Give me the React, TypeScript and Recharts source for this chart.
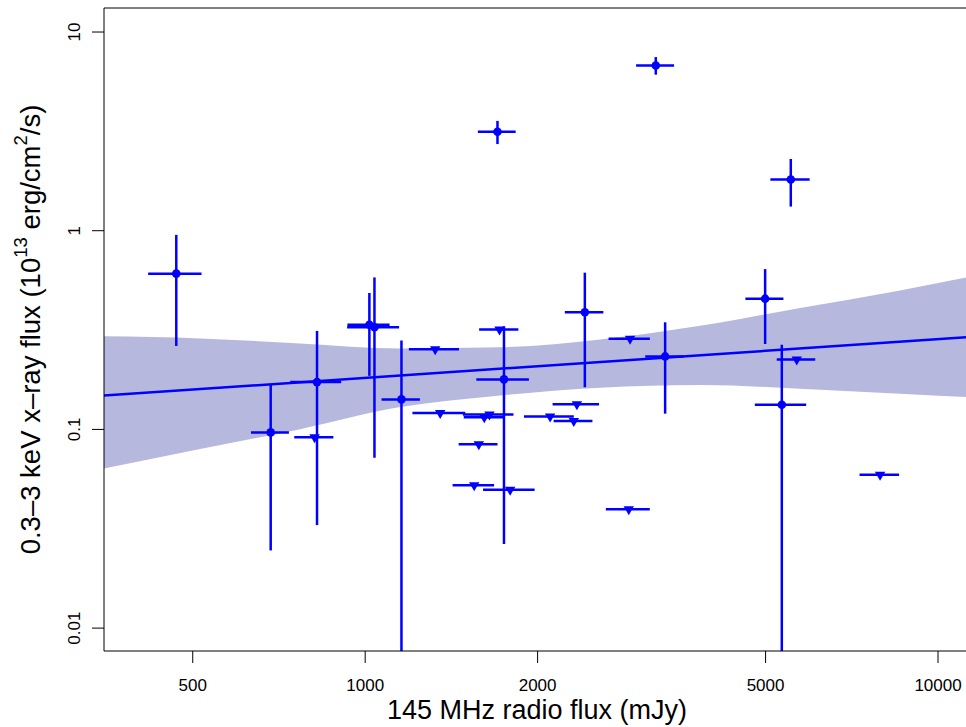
import React from 'react';
import {
  ComposedChart,
  Area,
  Line,
  Scatter,
  ErrorBar,
  XAxis,
  YAxis,
  ReferenceLine,
  Label,
} from 'recharts';

// Detections: 145 MHz radio flux (mJy) vs 0.3-3 keV x-ray flux (1e-13 erg/cm2/s)
const detRadio = [468, 684, 824, 1017, 1038, 1157, 1747, 2418, 3339, 4991, 5337, 1702, 3216, 5533];
const detRadioErr = [50, 52, 84, 86, 108, 89, 184, 187, 257, 381, 549, 129, 245, 436];
const detXray = [0.608, 0.0966, 0.173, 0.336, 0.327, 0.1416, 0.1785, 0.389, 0.233, 0.455, 0.133, 3.15, 6.79, 1.81];
const detXrayErr = [0.345, 0.072, 0.14, 0.15, 0.255, 0.139, 0.152, 0.226, 0.113, 0.186, 0.134, 0.42, 0.69, 0.487];

// Upper limits in x-ray
const ulRadio = [1325, 1716, 2900, 1352, 1648, 1614, 2103, 2342, 2313, 1579, 1550, 1791, 2885, 816, 5667, 7922];
const ulRadioErr = [133, 135, 240, 143, 167, 128, 210, 218, 180, 123, 129, 185, 254, 64, 438, 628];
const ulXray = [0.2535, 0.3187, 0.286, 0.1208, 0.119, 0.1153, 0.1162, 0.134, 0.1101, 0.0843, 0.0523, 0.0497, 0.0397, 0.0912, 0.225, 0.0592];

// Fit line and its confidence band
const fitRadio = [350, 11190];
const fitXray = [0.148, 0.291];
const bandRadio = [350, 515, 770, 1151, 1720, 2571, 3842, 5743, 8584, 11190];
const bandLow = [0.0635, 0.0796, 0.1003, 0.1295, 0.1483, 0.1622, 0.1675, 0.1603, 0.1512, 0.1454];
const bandHigh = [0.294, 0.287, 0.271, 0.2557, 0.259, 0.2838, 0.332, 0.4088, 0.5008, 0.582];

const xTicks = [500, 1000, 2000, 5000, 10000];
const yTicks = [0.01, 0.1, 1, 10];
const xDomain = [350, 11190];
const yDomain = [0.00767, 13.21];

const BLUE = '#0000ff';
const FONT = '"Liberation Sans", Arial, Helvetica, sans-serif';

const detData = detRadio.map((x, i) => ({ x, y: detXray[i], xErr: detRadioErr[i], yErr: detXrayErr[i] }));
const ulData = ulRadio.map((x, i) => ({ x, y: ulXray[i], xErr: ulRadioErr[i] }));
const fitData = fitRadio.map((x, i) => ({ x, y: fitXray[i] }));
const bandData = bandRadio.map((x, i) => ({ x, band: [bandLow[i], bandHigh[i]] }));

// lower error can reach below zero on a log axis: stop it at the bottom of the plot
// (scatter hands over its point object, the raw row sits in payload)
const yErrKey = (d: any) => {
  const p = d.payload ?? d;
  return [Math.min(p.yErr, p.y - yDomain[0]), p.yErr];
};

const XTick = ({ x, y, payload }: any) => (
  <text x={x} y={y} dy={26} textAnchor="middle" fontSize={17} fontFamily={FONT} fill="#000">
    {payload.value}
  </text>
);

const YTick = ({ x, y, payload }: any) => (
  <text
    x={x - 10}
    y={y}
    transform={`rotate(-90 ${x - 10} ${y})`}
    textAnchor="middle"
    fontSize={17}
    fontFamily={FONT}
    fill="#000"
  >
    {payload.value}
  </text>
);

const Dot = (p: any) => <circle cx={p.cx} cy={p.cy} r={4.3} fill={BLUE} />;

const DownTriangle = (p: any) => {
  const { cx, cy } = p;
  return (
    <polygon
      points={`${cx - 5.2},${cy - 3} ${cx + 5.2},${cy - 3} ${cx},${cy + 6}`}
      fill={BLUE}
    />
  );
};

const yTitle = (props: any) => {
  const vb = props.viewBox;
  const x = vb.x + 39.5;
  const y = vb.y + vb.height / 2;
  return (
    <text
      x={x}
      y={y}
      transform={`rotate(-90 ${x} ${y})`}
      textAnchor="middle"
      fontSize={27.5}
      fontFamily={FONT}
      fill="#000"
    >
      0.3–3 keV x–ray flux (10
      <tspan dy={-13} fontSize={18.5}>13</tspan>
      <tspan dy={13}> erg/cm</tspan>
      <tspan dy={-13} fontSize={18.5}>2</tspan>
      <tspan dy={13}>/s)</tspan>
    </text>
  );
};

const xTitle = (props: any) => {
  const vb = props.viewBox;
  return (
    <text
      x={vb.x + vb.width / 2 + 2}
      y={vb.y + 68}
      textAnchor="middle"
      fontSize={27}
      fontFamily={FONT}
      fill="#000"
    >
      145 MHz radio flux (mJy)
    </text>
  );
};

export default function App() {
  return (
    <div
      style={{
        position: 'absolute',
        left: 0,
        top: 0,
        width: 966,
        height: 727,
        overflow: 'hidden',
        background: '#fff',
      }}
    >
      <ComposedChart width={966} height={727} margin={{ top: 8, right: 0, bottom: 0, left: 0 }}>
        <XAxis
          dataKey="x"
          type="number"
          scale="log"
          domain={xDomain}
          allowDataOverflow
          ticks={xTicks}
          tick={<XTick />}
          tickSize={12}
          height={76}
          axisLine={{ stroke: '#000', strokeWidth: 1 }}
          tickLine={{ stroke: '#000', strokeWidth: 1 }}
        >
          <Label content={xTitle} />
        </XAxis>
        <YAxis
          dataKey="y"
          type="number"
          scale="log"
          domain={yDomain}
          allowDataOverflow
          ticks={yTicks}
          tick={<YTick />}
          tickSize={12}
          width={104}
          axisLine={{ stroke: '#000', strokeWidth: 1 }}
          tickLine={{ stroke: '#000', strokeWidth: 1 }}
        >
          <Label content={yTitle} />
        </YAxis>
        <ReferenceLine y={yDomain[1]} stroke="#000" strokeWidth={1} />

        <Area
          data={bandData}
          dataKey="band"
          type="monotone"
          stroke="none"
          fill="#b6b9dd"
          fillOpacity={1}
          isAnimationActive={false}
        />
        <Line
          data={fitData}
          dataKey="y"
          type="linear"
          stroke={BLUE}
          strokeWidth={2.5}
          dot={false}
          activeDot={false}
          isAnimationActive={false}
        />

        <Scatter data={ulData} shape={DownTriangle} isAnimationActive={false}>
          <ErrorBar dataKey="xErr" direction="x" width={0} stroke={BLUE} strokeWidth={2.5} isAnimationActive={false} />
        </Scatter>
        <Scatter data={detData} shape={Dot} isAnimationActive={false}>
          <ErrorBar dataKey="xErr" direction="x" width={0} stroke={BLUE} strokeWidth={2.5} isAnimationActive={false} />
          <ErrorBar dataKey={yErrKey} direction="y" width={0} stroke={BLUE} strokeWidth={2.5} isAnimationActive={false} />
        </Scatter>
      </ComposedChart>
    </div>
  );
}
